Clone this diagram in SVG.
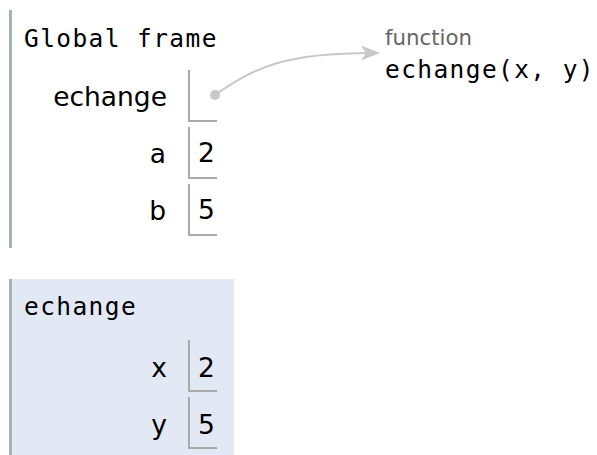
<svg xmlns="http://www.w3.org/2000/svg" width="597" height="455" viewBox="0 0 597 455">
<defs>
<style>
.mono{font-family:"DejaVu Sans Mono","Liberation Mono",monospace;font-size:24.5px;letter-spacing:1.4px;fill:#000}
.lbl{font-family:"DejaVu Sans","Verdana",sans-serif;font-size:26.5px;fill:#000;text-anchor:end}
.val{font-family:"DejaVu Sans","Verdana",sans-serif;font-size:26.5px;fill:#000}
.box{fill:none;stroke:#aaaaaa;stroke-width:2}
.fborder{stroke:#a6b3b6;stroke-width:3}
.conn{fill:none;stroke:#c8c8c8;stroke-width:2}
</style>
</defs>
<rect width="597" height="455" fill="#ffffff"/>
<g id="global-frame">
<line class="fborder" x1="10.5" y1="10" x2="10.5" y2="248"/>
<text class="mono" x="24" y="47">Global frame</text>
<g id="var-echange">
<text class="lbl" x="167" y="106">echange</text>
<path class="box" d="M189 70 V121 H217"/>
</g>
<g id="var-a">
<text class="lbl" x="166" y="163">a</text>
<path class="box" d="M189 127 V178 H217"/>
<text class="val" x="198" y="162">2</text>
</g>
<g id="var-b">
<text class="lbl" x="166" y="220">b</text>
<path class="box" d="M189 184 V235 H217"/>
<text class="val" x="198" y="219">5</text>
</g>
</g>
<g id="function-obj">
<text x="385" y="45" style="font-family:'DejaVu Sans',Verdana,sans-serif;font-size:21.3px;fill:#666666">function</text>
<text class="mono" x="385" y="78">echange(x, y)</text>
</g>
<g id="echange-frame">
<rect x="9" y="279" width="225" height="176" fill="#e2e9f4"/>
<line class="fborder" x1="10.5" y1="279" x2="10.5" y2="455"/>
<text class="mono" x="24" y="315">echange</text>
<g id="var-x">
<text class="lbl" x="167" y="377">x</text>
<path class="box" d="M189 340 V391 H217"/>
<text class="val" x="198" y="377">2</text>
</g>
<g id="var-y">
<text class="lbl" x="167" y="434">y</text>
<path class="box" d="M189 397 V448 H217"/>
<text class="val" x="198" y="434">5</text>
</g>
</g>
<g id="connectors">
<circle cx="215" cy="95" r="5" fill="#c8c8c8"/>
<path class="conn" d="M215 95 C255 67 285 53 372 53"/>
<path d="M380 53 L361 45.5 L366 53 L361 60.5 Z" fill="#c8c8c8"/>
</g>
</svg>
